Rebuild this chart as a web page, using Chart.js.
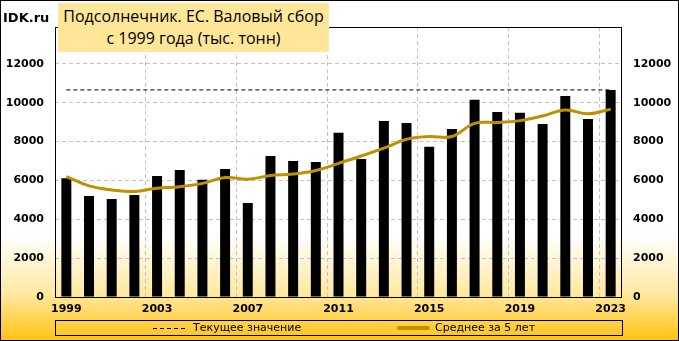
<!DOCTYPE html>
<html>
<head>
<meta charset="utf-8">
<script src="https://cdn.jsdelivr.net/npm/chart.js@4/dist/chart.umd.min.js"></script>
<style>
  body { margin: 0; }
  #wrap {
    position: relative; width: 679px; height: 341px; overflow: hidden;
    background: linear-gradient(to bottom, #ffffff 0%, #ffffff 69%, #ffe9a2 86%, #ffc20f 100%);
  }
  #wrap canvas { position: absolute; left: 0; top: 0; }
  #frame { position: absolute; left: 0; top: 0; width: 679px; height: 341px; box-sizing: border-box; border: 1px solid #000; pointer-events: none; }
  #logo { position: absolute; left: 3px; top: 10px; font: bold 13px "DejaVu Sans", sans-serif; color: #000; }
  #title {
    position: absolute; left: 58px; top: 3px; width: 271px; height: 49px; background: #ffe699;
    font: 16px "Open Sans", sans-serif; color: #000; text-align: center; line-height: 22px; padding-top: 2px; box-sizing: border-box;
  }
  #legend {
    position: absolute; left: 55px; top: 320px; width: 568px; height: 16px; box-sizing: border-box; border: 1px solid #000;
    font: 11px "DejaVu Sans", sans-serif; color: #000;
  }
  .li { position: absolute; top: 0; height: 14px; line-height: 14px; white-space: nowrap; }
  .sample { position: absolute; width: 33px; }
  .dash { height: 1px; top: 7px; background: repeating-linear-gradient(to right, #000 0, #000 4px, transparent 4px, transparent 7px); }
  .solid { height: 4px; background: #bf9000; top: 5px; border-radius: 2px; }
  .txt { position: absolute; left: 40px; top: 0; }
</style>
</head>
<body>
<div id="wrap">
  <canvas id="c" width="679" height="341"></canvas>
  <div id="logo">IDK.ru</div>
  <div id="title">Подсолнечник. ЕС. Валовый сбор<br>с 1999 года (тыс. тонн)</div>
  <div id="legend">
    <div class="li" style="left:97px"><div class="sample dash"></div><span class="txt">Текущее значение</span></div>
    <div class="li" style="left:341px"><div class="sample solid"></div><span class="txt" style="left:38px">Среднее за 5 лет</span></div>
  </div>
  <div id="frame"></div>
</div>
<script>
//================================ DADES

const years = ['1999', '2000', '2001', '2002', '2003', '2004', '2005', '2006', '2007', '2008',
  '2009', '2010', '2011', '2012', '2013', '2014', '2015', '2016', '2017', '2018',
  '2019', '2020', '2021', '2022', '2023'];

// валовый сбор, тыс. тонн
const harvest = [6110, 5200, 5050, 5250, 6230, 6540, 6030, 6590, 4840, 7260,
  7000, 6950, 8450, 7110, 9060, 8960, 7730, 8650, 10150, 9530,
  9480, 8910, 10350, 9170, 10660];

// среднее за 5 лет
const avg5 = [6200, 5720, 5510, 5430, 5600, 5680, 5850, 6150, 6060, 6250,
  6330, 6510, 6880, 7260, 7660, 8120, 8260, 8260, 8940, 8980,
  9080, 9320, 9630, 9430, 9670];

// текущее значение (последний год)
const currentValue = 10660;

// деления оси Y
const yTicks = [0, 2000, 4000, 6000, 8000, 10000, 12000];
const yMax = 13900;

//================================ GRÀFIC

const current = [];
for (let i = 0; i < years.length; i++) {
  current.push(currentValue);
}

const tickFont = { family: 'DejaVu Sans, sans-serif', size: 11, weight: 'bold' };
const gridGray = '#c3c3c3';

const boxPlugin = {
  id: 'plotBox',
  beforeDatasetsDraw (chart) {
    const a = chart.chartArea;
    const ctx = chart.ctx;
    ctx.save();
    ctx.strokeStyle = '#000';
    ctx.lineWidth = 1;
    ctx.strokeRect(Math.round(a.left) + 0.5, Math.round(a.top) + 0.5, Math.round(a.right - a.left) - 1, Math.round(a.bottom - a.top));
    ctx.restore();
  }
};

function setYTicks (s) {
  const t = [];
  for (let i = 0; i < yTicks.length; i++) {
    t.push({ value: yTicks[i] });
  }
  s.ticks = t;
}

function yGrid (ctx) {
  if (ctx.tick && ctx.tick.value > 0) {
    return gridGray;
  }
  return 'rgba(0,0,0,0)';
}

function yLabel (v) {
  return String(v);
}

new Chart(document.getElementById('c'), {
  data: {
    labels: years,
    datasets: [
      {
        type: 'line',
        label: 'Среднее за 5 лет',
        data: avg5,
        borderColor: '#bf9000',
        borderWidth: 3,
        pointRadius: 0,
        tension: 0.4,
        fill: false,
      },
      {
        type: 'line',
        label: 'Текущее значение',
        data: current,
        borderColor: '#000',
        borderWidth: 1,
        borderDash: [4, 3],
        pointRadius: 0,
        fill: false,
      },
      {
        type: 'bar',
        label: 'Валовый сбор',
        data: harvest,
        backgroundColor: '#000',
        barPercentage: 0.44,
        categoryPercentage: 1.0,
      },
    ],
  },
  options: {
    responsive: false,
    animation: false,
    devicePixelRatio: 1,
    layout: { padding: { top: 27, right: 0, bottom: 0, left: 0 } },
    plugins: {
      legend: { display: false },
      tooltip: { enabled: false },
    },
    scales: {
      x: {
        offset: true,
        afterFit (s) { s.height = 44; },
        grid: {
          offset: true,
          drawTicks: false,
          color (ctx) {
            if (ctx.index > 0 && ctx.index < years.length && ctx.index % 4 === 0) {
              return gridGray;
            }
            return 'rgba(0,0,0,0)';
          },
        },
        border: { display: false, dash: [4, 3] },
        ticks: {
          autoSkip: false,
          maxRotation: 0,
          padding: 6,
          color: '#000',
          font: tickFont,
          callback (v, i) {
            if (i % 4 === 0) {
              return years[i];
            }
            return '';
          },
        },
      },
      y: {
        position: 'left',
        min: 0,
        max: yMax,
        afterBuildTicks: setYTicks,
        afterFit (s) { s.width = 55; },
        grid: { drawTicks: false, color: yGrid },
        border: { display: false, dash: [4, 3] },
        ticks: { autoSkip: false, padding: 11, color: '#000', font: tickFont, callback: yLabel },
      },
      y2: {
        position: 'right',
        min: 0,
        max: yMax,
        afterBuildTicks: setYTicks,
        afterFit (s) { s.width = 57; },
        grid: { display: false, drawTicks: false },
        border: { display: false },
        ticks: { autoSkip: false, padding: 11, color: '#000', font: tickFont, callback: yLabel },
      },
    },
  },
  plugins: [boxPlugin],
});
</script>
</body>
</html>
